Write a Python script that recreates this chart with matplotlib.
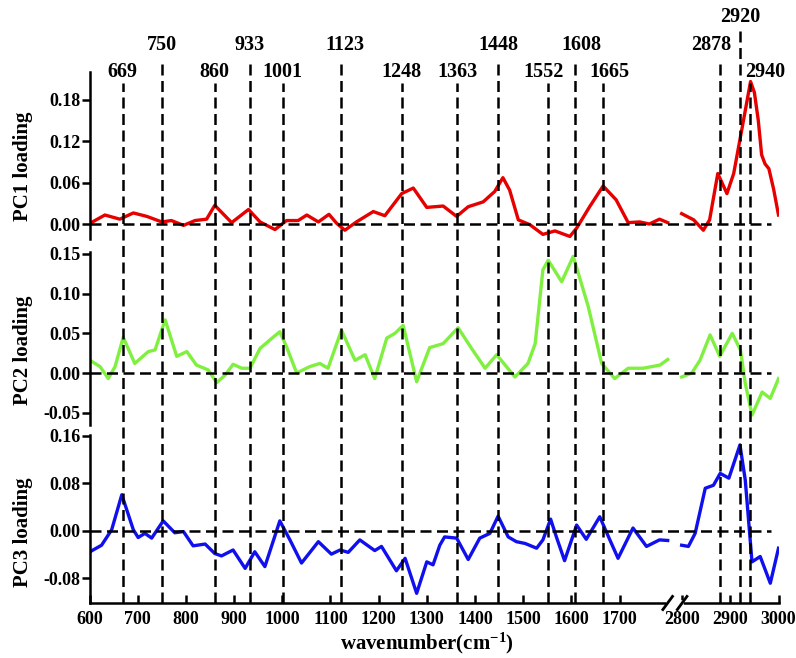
import numpy as np
import matplotlib
matplotlib.use("Agg")
import matplotlib.pyplot as plt
from matplotlib.lines import Line2D
from matplotlib.ticker import FormatStrFormatter
from matplotlib.transforms import blended_transform_factory

plt.rcParams['font.family'] = ['Liberation Serif', 'DejaVu Serif']
plt.rcParams['font.weight'] = 'bold'
plt.rcParams['mathtext.default'] = 'regular'

# Loadings (low range 600-1800, high range 2800-3000)
pc1_wn_low = [601, 632, 663, 691, 719, 750, 770, 795, 819, 843, 860, 895, 930, 954, 985,
              1009, 1033, 1051, 1075, 1097, 1113, 1130, 1154, 1189, 1213, 1248, 1272, 1300,
              1334, 1362, 1386, 1417, 1441, 1458, 1472, 1490, 1514, 1541, 1566, 1597, 1611,
              1638, 1666, 1693, 1718, 1742, 1762, 1783, 1800]
pc1_low = [0.001, 0.013, 0.007, 0.016, 0.011, 0.003, 0.005, -0.002, 0.005, 0.007, 0.027,
           0.002, 0.021, 0.003, -0.008, 0.005, 0.005, 0.013, 0.003, 0.014, 0.001, -0.009,
           0.003, 0.018, 0.012, 0.044, 0.052, 0.024, 0.026, 0.011, 0.025, 0.032, 0.047,
           0.067, 0.049, 0.006, -0.001, -0.015, -0.010, -0.018, -0.006, 0.025, 0.055, 0.035,
           0.002, 0.003, 0.000, 0.007, 0.002]
pc1_wn_high = [2799, 2824, 2844, 2857, 2874, 2893, 2907, 2925, 2942, 2950, 2958, 2965,
               2972, 2980, 2990, 3000]
pc1_high = [0.015, 0.006, -0.009, 0.006, 0.073, 0.044, 0.073, 0.141, 0.206, 0.190, 0.150,
            0.100, 0.087, 0.080, 0.050, 0.013]

pc2_wn_low = [601, 622, 639, 653, 670, 694, 722, 736, 757, 781, 802, 822, 846, 864, 881,
              898, 916, 933, 954, 981, 995, 1009, 1030, 1057, 1078, 1095, 1123, 1151, 1172,
              1192, 1217, 1234, 1251, 1279, 1306, 1334, 1365, 1393, 1421, 1445, 1483, 1510,
              1525, 1541, 1552, 1580, 1604, 1635, 1663, 1690, 1718, 1749, 1784, 1800]
pc2_low = [0.016, 0.008, -0.007, 0.008, 0.045, 0.012, 0.027, 0.029, 0.067, 0.021, 0.027,
           0.010, 0.004, -0.012, -0.003, 0.011, 0.006, 0.006, 0.031, 0.045, 0.052, 0.033,
           0.000, 0.008, 0.012, 0.006, 0.054, 0.016, 0.023, -0.007, 0.044, 0.050, 0.060,
           -0.011, 0.032, 0.037, 0.057, 0.031, 0.006, 0.023, -0.005, 0.012, 0.037, 0.130,
           0.142, 0.115, 0.147, 0.084, 0.012, -0.007, 0.006, 0.006, 0.010, 0.017]
pc2_wn_high = [2799, 2820, 2837, 2858, 2878, 2904, 2921, 2931, 2945, 2966, 2983, 3000]
pc2_high = [-0.005, 0.000, 0.016, 0.048, 0.021, 0.050, 0.029, -0.013, -0.053, -0.024,
            -0.032, -0.007]

pc3_wn_low = [601, 625, 646, 667, 691, 701, 715, 729, 753, 777, 795, 815, 840, 860, 874,
              898, 923, 943, 964, 995, 1016, 1040, 1075, 1102, 1120, 1137, 1161, 1192, 1206,
              1237, 1255, 1279, 1300, 1313, 1327, 1337, 1362, 1386, 1410, 1431, 1448, 1469,
              1486, 1504, 1528, 1541, 1557, 1569, 1586, 1611, 1631, 1659, 1680, 1697, 1728,
              1756, 1783, 1800]
pc3_low = [-0.035, -0.024, 0.002, 0.061, 0.002, -0.011, -0.004, -0.012, 0.017, -0.003,
           -0.001, -0.025, -0.022, -0.038, -0.042, -0.032, -0.063, -0.035, -0.060, 0.017,
           -0.015, -0.054, -0.018, -0.039, -0.032, -0.036, -0.015, -0.033, -0.026, -0.067,
           -0.046, -0.105, -0.052, -0.057, -0.024, -0.010, -0.012, -0.048, -0.012, -0.004,
           0.025, -0.010, -0.018, -0.021, -0.029, -0.015, 0.020, -0.010, -0.050, 0.010,
           -0.014, 0.024, -0.015, -0.046, 0.005, -0.026, -0.015, -0.016]
pc3_wn_high = [2799, 2813, 2827, 2848, 2865, 2879, 2897, 2920, 2931, 2945, 2962, 2983, 3000]
pc3_high = [-0.024, -0.026, -0.004, 0.072, 0.077, 0.097, 0.089, 0.145, 0.086, -0.052,
            -0.043, -0.088, -0.029]

# marked bands and which label row they sit in (0 low, 1 middle, 2 top)
peaks = [669, 750, 860, 933, 1001, 1123, 1248, 1363, 1448, 1552, 1608, 1665, 2878, 2920, 2940]
peak_rows = [0, 1, 0, 1, 0, 1, 0, 0, 1, 0, 1, 0, 1, 2, 0]
label_shift = {1123: 8, 1552: -10, 1608: 12, 1665: 15, 2878: -17, 2940: 33}

xtick_vals = [600, 700, 800, 900, 1000, 1100, 1200, 1300, 1400, 1500, 1600, 1700, 2800, 2900, 3000]


def to_pos(w):
    # broken axis: the 1800-2800 stretch is collapsed into a small gap
    w = np.asarray(w, dtype=float)
    return np.where(w < 2000, w, w - 2800 + 1830)


W, H = 796, 658
fig = plt.figure(figsize=(W / 100, H / 100), dpi=100)
XMIN, XMAX = 600, 2030
dash = (0, (4.4, 2.2))

panels = [
    dict(top=72, bot=246, ylim=(-0.0318, 0.2198), spine=(-0.022, 0.2198),
         yticks=[0.00, 0.06, 0.12, 0.18], color='#e60000',
         data=(pc1_wn_low, pc1_low, pc1_wn_high, pc1_high), label='PC1 loading', ly=166),
    dict(top=246, bot=430, ylim=(-0.0718, 0.16), spine=(-0.066, 0.152),
         yticks=[-0.05, 0.00, 0.05, 0.10, 0.15], color='#80f040',
         data=(pc2_wn_low, pc2_low, pc2_wn_high, pc2_high), label='PC2 loading', ly=350),
    dict(top=430, bot=603, ylim=(-0.1213, 0.1701), spine=(-0.1213, 0.1617),
         yticks=[-0.08, 0.00, 0.08, 0.16], color='#1010ee',
         data=(pc3_wn_low, pc3_low, pc3_wn_high, pc3_high), label='PC3 loading', ly=532),
]

axes = []
for i, p in enumerate(panels):
    ax = fig.add_axes([89.5 / W, 1 - p['bot'] / H, 689 / W, (p['bot'] - p['top']) / H])
    ax.patch.set_alpha(0)
    wl, vl, wh, vh = p['data']
    ax.plot(to_pos(wl), vl, color=p['color'], lw=2.4)
    ax.plot(to_pos(wh), vh, color=p['color'], lw=2.4)
    ax.axhline(0, xmin=0, xmax=(float(to_pos(2985)) - XMIN) / (XMAX - XMIN),
               color='k', lw=1.8, ls=dash)
    ax.set_xlim(XMIN, XMAX)
    ax.set_ylim(*p['ylim'])
    for s in ['top', 'right']:
        ax.spines[s].set_visible(False)
    ax.spines['left'].set_bounds(*p['spine'])
    ax.spines['left'].set_linewidth(1.8)
    ax.set_yticks(p['yticks'])
    ax.yaxis.set_major_formatter(FormatStrFormatter('%.2f'))
    ax.tick_params(axis='y', direction='out', length=5.5, width=1.8, pad=1, labelsize=13)
    if i < 2:
        ax.spines['bottom'].set_visible(False)
        ax.tick_params(axis='x', bottom=False, labelbottom=False)
    else:
        ax.spines['bottom'].set_linewidth(1.8)
        ax.set_xticks(to_pos(xtick_vals))
        ax.set_xticklabels([str(v) for v in xtick_vals])
        ax.tick_params(axis='x', direction='in', length=5.5, width=1.8, pad=6, labelsize=13)
    fig.text(23 / W, 1 - p['ly'] / H, p['label'], rotation=90, ha='center', va='center',
             fontsize=15, fontweight='bold')
    axes.append(ax)

ax3 = axes[-1]

# axis break marks
bt = blended_transform_factory(ax3.transData, ax3.transAxes)
ax3.add_line(Line2D([1803, 1827], [0, 0], transform=bt, color='white', lw=4,
                    clip_on=False, zorder=5))
for xb in (1800, 1830):
    ax3.add_line(Line2D([xb - 10, xb + 10], [-0.038, 0.038], transform=bt, color='k',
                        lw=2, clip_on=False, zorder=6))

# vertical band lines and their labels
ft = blended_transform_factory(ax3.transData, fig.transFigure)
line_top = {0: 83, 1: 60, 2: 30}
text_y = {0: 72, 1: 45, 2: 17}
for w, r in zip(peaks, peak_rows):
    x = float(to_pos(w))
    fig.add_artist(Line2D([x, x], [1 - 603 / H, 1 - line_top[r] / H], transform=ft,
                          color='k', lw=1.8, ls=dash))
    fig.text(x + label_shift.get(w, 0), 1 - text_y[r] / H, str(w), transform=ft,
             ha='center', va='center', fontsize=14.5, fontweight='bold')

fig.text(427 / W, 1 - 643 / H, 'wavenumber(cm$^{-1}$)', ha='center', va='center',
         fontsize=15, fontweight='bold')

fig.savefig('out.png', dpi=100)
